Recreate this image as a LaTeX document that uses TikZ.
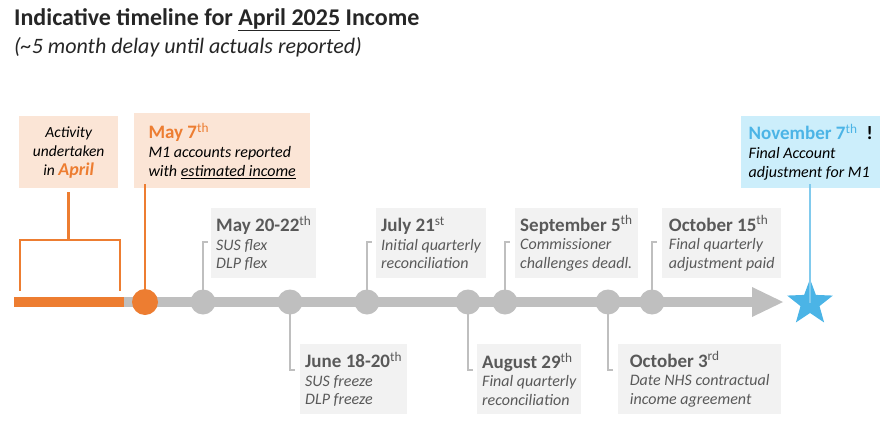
\documentclass[tikz,border=0pt]{standalone}
\usepackage{fontspec}
\setmainfont{Carlito}
\usetikzlibrary{shapes.geometric}
\definecolor{tg}{HTML}{BFBFBF}
\definecolor{dg}{HTML}{595959}
\definecolor{bg}{HTML}{F2F2F2}
\definecolor{og}{HTML}{ED7D31}
\definecolor{ob}{HTML}{FBE5D6}
\definecolor{bl}{HTML}{4BB4E6}
\definecolor{bb}{HTML}{CCEEFB}
\newcommand{\sth}[1]{\textsuperscript{\normalfont\mdseries #1}}
\begin{document}
\begin{tikzpicture}[x=1pt,y=-1pt,
  gbox/.style={fill=bg,anchor=north west,inner xsep=5pt,inner ysep=3pt,align=left,font=\fontsize{16}{18.5}\selectfont\itshape,text=dg,minimum height=70pt},
  dot/.style={circle,fill=tg,minimum size=25pt,inner sep=0pt},
  conn/.style={tg,line width=2.5pt}]
\useasboundingbox (0,0) rectangle (885,420);
\node[anchor=north west,inner sep=0pt,font=\fontsize{24}{28}\selectfont\bfseries,text=black!85] (t) at (14,8) {Indicative timeline for \underline{April 2025} Income};
\node[anchor=north west,inner sep=0pt,font=\fontsize{22}{26}\selectfont\itshape,text=black!85] (st) at (14,37) {(\textasciitilde5 month delay until actuals reported)};
% timeline
\coordinate (ls) at (14,302);
\coordinate (lo) at (124,302);
\coordinate (le) at (755,302);
\draw[tg,line width=10pt] (lo) -- (le);
\draw[og,line width=10pt] (ls) -- (lo);
\fill[tg] (752,287) -- (783,302) -- (752,317) -- cycle;
\node[star,star points=5,star point ratio=2.4,fill=bl,minimum size=48pt,inner sep=0pt] (star) at (810,303) {};
% boxes top
\node[fill=ob,anchor=north west,minimum width=99pt,minimum height=72pt,align=center,inner sep=2pt,font=\fontsize{15.5}{19}\selectfont\itshape] (act) at (19,116) {Activity\\undertaken\\in {\fontsize{18}{19}\selectfont\bfseries\color{og}April}};
\node[fill=ob,anchor=north west,minimum width=176pt,minimum height=75pt,align=left,inner xsep=7pt,inner ysep=3pt,font=\fontsize{16}{19}\selectfont\itshape] (m7) at (134,113) {{\fontsize{19}{20}\selectfont\bfseries\upshape\color{og}May 7\sth{th}}\\M1 accounts reported\\with \underline{estimated income}};
\node[fill=bb,anchor=north west,minimum width=139pt,minimum height=72pt,align=left,inner xsep=7pt,inner ysep=3pt,font=\fontsize{16}{19}\selectfont\itshape] (nov) at (741,116) {{\fontsize{19}{20}\selectfont\bfseries\upshape\color{bl}November 7\sth{th}}\hspace{9pt}{\fontsize{19}{20}\selectfont\bfseries\upshape !}\\Final Account\\adjustment for M1};
% bracket
\coordinate (b1) at (20,291); \coordinate (b2) at (120,291);
\draw[og,line width=2.5pt] (act.south) ++(0,4) |- (20,240) -- (b1);
\draw[og,line width=2.5pt] (70,240) -| (b2);
% dots
\node[circle,fill=og,minimum size=26pt,inner sep=0pt] (d0) at (145,302) {};
\draw[og,line width=2.5pt] (d0.center) -- ([yshift=4pt]m7.south west -| d0);
\draw[bl!70!white,line width=2.5pt] (star.center) -- ([yshift=4pt]nov.south -| star);
\foreach \n/\x in {d1/203,d2/290,d3/367,d4/468,d5/505,d6/608,d7/652} \node[dot] (\n) at (\x,302) {};
% gray boxes
\newcommand{\hd}[1]{{\fontsize{19}{20}\selectfont\bfseries\upshape #1}}
\node[gbox,minimum width=99pt] (g1) at (211,208) {\hd{May 20-22\sth{th}}\\SUS flex\\DLP flex};
\node[gbox,minimum width=109pt] (g3) at (376,208) {\hd{July 21\sth{st}}\\Initial quarterly\\reconciliation};
\node[gbox,minimum width=119pt] (g5) at (515,208) {\hd{September 5\sth{th}}\\Commissioner\\challenges deadl.};
\node[gbox,minimum width=119pt] (g7) at (662,208) {\hd{October 15\sth{th}}\\Final quarterly\\adjustment paid};
\node[gbox,minimum width=98pt] (g2) at (300,344) {\hd{June 18-20\sth{th}}\\SUS freeze\\DLP freeze};
\node[gbox,minimum width=98pt] (g4) at (477,344) {\hd{August 29\sth{th}}\\Final quarterly\\reconciliation};
\node[gbox,minimum width=163pt] (g6) at (618,344) {\hd{October 3\sth{rd}}\\Date NHS contractual\\income agreement};
% connectors
\foreach \d in {d1,d3,d5,d7} \draw[conn] (\d.center) -- ++(0,-60) -- ++(5,0);
\foreach \d in {d2,d4,d6} \draw[conn] (\d.center) -- ++(0,68) -- ++(5,0);
\end{tikzpicture}
\end{document}
